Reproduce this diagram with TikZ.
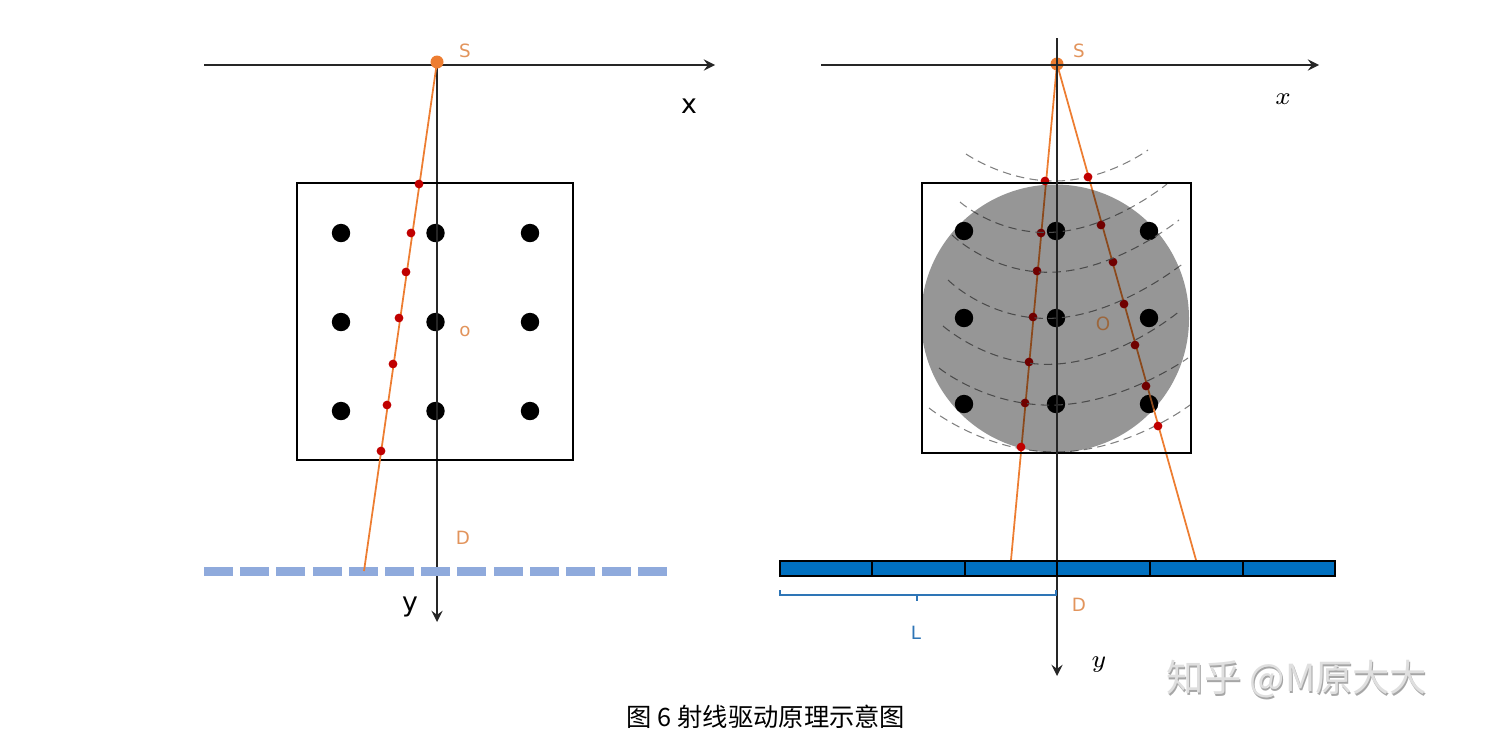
\documentclass[tikz,border=0pt]{standalone}
\usepackage{fontspec}
\setmainfont{DejaVu Sans}
\newfontfamily\cjk{Noto Sans CJK SC}
\usepackage{amsmath}
\usetikzlibrary{arrows,calc}
\colorlet{rayc}{orange!75!red!90!black}
\definecolor{rayc}{RGB}{237,125,49}
\definecolor{hitc}{RGB}{192,0,0}
\definecolor{detl}{RGB}{143,170,220}
\definecolor{detr}{RGB}{0,112,192}
\definecolor{bracec}{RGB}{46,117,182}
\definecolor{lblc}{RGB}{226,148,92}
\tikzset{
  axisline/.style={line width=0.42pt,black!85},
  boxline/.style={line width=0.62pt,black},
  rayline/.style={line width=0.5pt,rayc},
  arcline/.style={line width=0.3pt,gray,dash pattern=on 2.4pt off 1.5pt},
  lbl/.style={font=\fontsize{5.2pt}{6pt}\selectfont,text=lblc,inner sep=0pt},
  axlbl/.style={font=\fontsize{7.6pt}{9pt}\selectfont,text=black,inner sep=0pt}
}
\newcommand{\voxel}[2]{\fill (#1,#2) circle (9.2);}
\newcommand{\hit}[3][hitc]{\fill[#1] (#2,#3) circle (4.4);}
\begin{document}
\begin{tikzpicture}[x=0.01cm,y=-0.01cm,>=stealth]
\useasboundingbox (0,0) rectangle (1491,739);
\coordinate (sl) at (437,62);
\coordinate (yl) at (437,622);
\coordinate (el) at (364,571);
\foreach \x in {341,435.5,530} \foreach \y in {233,322,411} {\voxel{\x}{\y}}
\draw[axisline,->] (204,65) -- (715,65);
\draw[axisline,->] (sl) -- (yl);
\draw[boxline] (297,183) rectangle (573,460);
\foreach \i in {0,...,12} \fill[detl] ({204+\i*36.2},566.5) rectangle ++(29,9);
\draw[rayline] (sl) -- (el);
\fill[rayc] (sl) circle (6.5);
\foreach \x/\y in {419/184,411/233,406/272,399/318,393/364,387/405,381/451} {\hit{\x}{\y}}
\node[lbl] (sleft) at (465,51) {S};
\node[lbl] (oleft) at (465,332) {o};
\node[lbl] (dleft) at (463,538) {D};
\node[axlbl] (xleft) at (689,106) {x};
\node[axlbl] (yleft) at (410,607) {y};

\coordinate (sr) at (1057,64);
\coordinate (ea) at (1011,560);
\coordinate (eb) at (1196,560);
\foreach \x in {964,1056,1149} \foreach \y in {231,318,404} {\voxel{\x}{\y}}
\draw[rayline] (sr) -- (ea);
\draw[rayline] (sr) -- (eb);
\foreach \x/\y in {1041/233,1037/271,1033/317,1029/362,1025/403,1101/225,1113/262,1124/304,1135/345,1146/386} {\hit{\x}{\y}}
\foreach \xa/\ya/\ym/\xb/\yb in {966/154/181/1148/150,960/202/232/1167/184,952/235/272/1179/220,948/280/318/1185/262,943/326/364/1181/310,939/368/405/1188/358,929/408/452/1190/405}
  \draw[arcline] plot[smooth,tension=1] coordinates {(\xa,\ya) (1057,\ym) (\xb,\yb)};
\fill[black,fill opacity=0.41] (1055,318.5) circle (134);
\foreach \x/\y in {1045/181,1021/447,1088/177,1158/426} {\hit{\x}{\y}}
\fill[rayc] (sr) circle (6.5);
\draw[boxline] (922,183) rectangle (1191,453);
\draw[axisline,->] (821,65) -- (1319,65);
\draw[axisline,->] (1057,38) -- (1057,676);
\draw[line width=0.5pt,fill=detr] (780,561) rectangle (1335,576);
\foreach \x in {872,965,1057,1150,1243} \draw[line width=0.55pt] (\x,561) -- (\x,576);
\draw[line width=0.3pt,bracec] (780,590) -- (780,595) -- (1056,595) -- (1056,590) (917,595) -- (917,601);
\node[lbl] (sright) at (1079,51) {S};
\node[lbl,text=black!35!lblc!80!brown] (oright) at (1103,324) {O};
\node[lbl] (dright) at (1079,605) {D};
\node[lbl,text=bracec] (lright) at (916,633) {L};
\node[font=\fontsize{7pt}{8pt}\selectfont,inner sep=0pt] (xright) at (1283,99) {$x$};
\node[font=\fontsize{7pt}{8pt}\selectfont,inner sep=0pt] (yright) at (1099,665) {$y$};

\node[font=\cjk\fontsize{10.6pt}{12pt}\selectfont,text=gray!70,inner sep=0pt] (markshadow) at (1298,681) {知乎 @M原大大};
\node[font=\cjk\fontsize{10.6pt}{12pt}\selectfont,text=gray!25,inner sep=0pt] (mark) at (1297,679) {知乎 @M原大大};
\node[font=\cjk\fontsize{7.2pt}{9pt}\selectfont,inner sep=0pt] (caption) at (766,717) {图 6 射线驱动原理示意图};
\end{tikzpicture}
\end{document}
